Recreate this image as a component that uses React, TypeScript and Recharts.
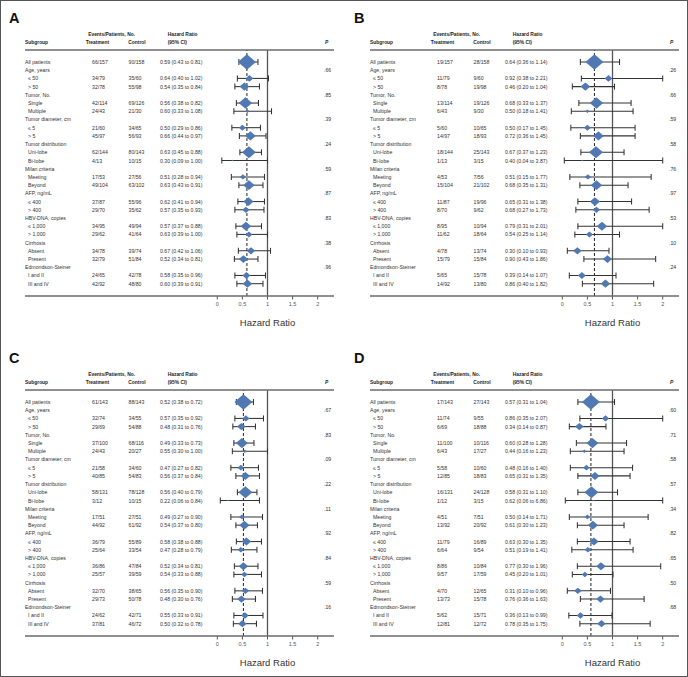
import React from 'react'
import { ScatterChart, Scatter, XAxis, YAxis, ErrorBar, ReferenceLine } from 'recharts'

const SUBGROUPS = [
  'All patients', 'Age, years', '≤ 50', '> 50', 'Tumor, No.', 'Single', 'Multiple',
  'Tumor diameter, cm', '≤ 5', '> 5', 'Tumor distribution', 'Uni-lobe', 'Bi-lobe',
  'Milan criteria', 'Meeting', 'Beyond', 'AFP, ng/mL', '≤ 400', '> 400',
  'HBV-DNA, copies', '≤ 1,000', '> 1,000', 'Cirrhosis', 'Absent', 'Present',
  'Edmondson-Steiner', 'I and II', 'III and IV',
]

const X_TICKS = [0, 0.5, 1, 1.5, 2]

// panel A
const A_TREATMENT = ['66/157', '', '34/79', '32/78', '', '42/114', '24/43', '', '21/60', '45/97', '', '62/144', '4/13', '', '17/53', '49/104', '', '37/87', '29/70', '', '34/95', '29/62', '', '34/78', '32/79', '', '24/65', '42/92']
const A_CONTROL = ['90/158', '', '35/60', '55/98', '', '69/126', '21/30', '', '34/65', '56/93', '', '80/143', '10/15', '', '27/56', '63/102', '', '55/96', '35/62', '', '49/94', '41/64', '', '39/74', '51/84', '', '42/78', '48/80']
const A_HR = [0.59, null, 0.64, 0.54, null, 0.56, 0.60, null, 0.50, 0.66, null, 0.63, 0.30, null, 0.51, 0.63, null, 0.62, 0.57, null, 0.57, 0.63, null, 0.67, 0.52, null, 0.58, 0.60]
const A_LOW = [0.43, null, 0.40, 0.35, null, 0.38, 0.33, null, 0.29, 0.44, null, 0.45, 0.09, null, 0.28, 0.43, null, 0.41, 0.35, null, 0.37, 0.39, null, 0.42, 0.34, null, 0.35, 0.39]
const A_HIGH = [0.81, null, 1.02, 0.84, null, 0.82, 1.08, null, 0.86, 0.97, null, 0.88, 1.00, null, 0.94, 0.91, null, 0.94, 0.93, null, 0.88, 1.00, null, 1.06, 0.81, null, 0.96, 0.91]
const A_P = ['.66', '.85', '.39', '.24', '.59', '.87', '.83', '.38', '.96']

// panel B
const B_TREATMENT = ['19/157', '', '11/79', '8/78', '', '13/114', '6/43', '', '5/60', '14/97', '', '18/144', '1/13', '', '4/53', '15/104', '', '11/87', '8/70', '', '8/95', '11/62', '', '4/78', '15/79', '', '5/65', '14/92']
const B_CONTROL = ['28/158', '', '9/60', '19/98', '', '19/126', '9/30', '', '10/65', '18/93', '', '25/143', '3/15', '', '7/56', '21/102', '', '19/96', '9/62', '', '10/94', '18/64', '', '13/74', '15/84', '', '15/78', '13/80']
const B_HR = [0.64, null, 0.92, 0.46, null, 0.68, 0.50, null, 0.50, 0.72, null, 0.67, 0.40, null, 0.51, 0.68, null, 0.65, 0.68, null, 0.79, 0.54, null, 0.30, 0.90, null, 0.39, 0.86]
const B_LOW = [0.36, null, 0.38, 0.20, null, 0.33, 0.18, null, 0.17, 0.36, null, 0.37, 0.04, null, 0.15, 0.35, null, 0.31, 0.27, null, 0.31, 0.25, null, 0.10, 0.43, null, 0.14, 0.40]
const B_HIGH = [1.14, null, 2.21, 1.04, null, 1.37, 1.41, null, 1.45, 1.45, null, 1.23, 3.87, null, 1.77, 1.31, null, 1.38, 1.73, null, 2.01, 1.14, null, 0.93, 1.86, null, 1.07, 1.82]
const B_P = ['.26', '.66', '.59', '.58', '.76', '.97', '.53', '.10', '.24']

// panel C
const C_TREATMENT = ['61/143', '', '32/74', '29/69', '', '37/100', '24/43', '', '21/58', '40/85', '', '58/131', '3/12', '', '17/51', '44/92', '', '36/79', '25/64', '', '36/86', '25/57', '', '32/70', '29/73', '', '24/62', '37/81']
const C_CONTROL = ['88/143', '', '34/55', '54/88', '', '68/116', '20/27', '', '34/60', '54/83', '', '78/128', '10/15', '', '27/51', '61/92', '', '55/89', '33/54', '', '47/84', '39/59', '', '38/65', '50/78', '', '42/71', '46/72']
const C_HR = [0.52, null, 0.57, 0.48, null, 0.49, 0.55, null, 0.47, 0.56, null, 0.56, 0.22, null, 0.49, 0.54, null, 0.58, 0.47, null, 0.52, 0.54, null, 0.56, 0.48, null, 0.55, 0.50]
const C_LOW = [0.38, null, 0.35, 0.31, null, 0.33, 0.30, null, 0.27, 0.37, null, 0.40, 0.06, null, 0.27, 0.37, null, 0.38, 0.28, null, 0.34, 0.33, null, 0.35, 0.30, null, 0.33, 0.32]
const C_HIGH = [0.72, null, 0.92, 0.76, null, 0.73, 1.00, null, 0.82, 0.84, null, 0.79, 0.84, null, 0.90, 0.80, null, 0.88, 0.79, null, 0.81, 0.88, null, 0.90, 0.76, null, 0.91, 0.78]
const C_P = ['.67', '.83', '.09', '.22', '.11', '.92', '.84', '.59', '.16']

// panel D
const D_TREATMENT = ['17/143', '', '11/74', '6/69', '', '11/100', '6/43', '', '5/58', '12/85', '', '16/131', '1/12', '', '4/51', '13/92', '', '11/79', '6/64', '', '8/86', '9/57', '', '4/70', '13/73', '', '5/62', '12/81']
const D_CONTROL = ['27/143', '', '9/55', '18/88', '', '10/116', '17/27', '', '10/60', '18/83', '', '24/128', '3/15', '', '7/51', '20/92', '', '16/89', '9/54', '', '10/84', '17/59', '', '12/65', '15/78', '', '15/71', '12/72']
const D_HR = [0.57, null, 0.86, 0.34, null, 0.60, 0.44, null, 0.48, 0.65, null, 0.58, 0.62, null, 0.50, 0.61, null, 0.63, 0.51, null, 0.77, 0.45, null, 0.31, 0.76, null, 0.36, 0.78]
const D_LOW = [0.31, null, 0.35, 0.14, null, 0.28, 0.16, null, 0.16, 0.31, null, 0.31, 0.06, null, 0.14, 0.30, null, 0.30, 0.19, null, 0.30, 0.20, null, 0.10, 0.36, null, 0.13, 0.35]
const D_HIGH = [1.04, null, 2.07, 0.87, null, 1.28, 1.23, null, 1.40, 1.35, null, 1.10, 6.86, null, 1.71, 1.23, null, 1.35, 1.41, null, 1.96, 1.01, null, 0.96, 1.63, null, 0.99, 1.75]
const D_P = ['.60', '.71', '.58', '.57', '.34', '.82', '.65', '.50', '.68']

const FONT = "'Liberation Sans', Arial, Helvetica, sans-serif"
const BLUE = '#5079b3'
const W = 342
const H = 338

// marker size follows the number of patients in the subgroup
const patients = (s) => Number(s.split('/')[1])

const Diamond = (props) => {
  const { cx, cy, payload } = props
  if (cx == null || cy == null) return null
  const s = payload.size
  const h = s * 0.85
  return (
    <polygon
      points={`${cx - s},${cy} ${cx},${cy - h} ${cx + s},${cy} ${cx},${cy + h}`}
      fill={BLUE}
    />
  )
}

function Forest({ letter, treatment, control, hr, low, high, p, left, top }) {
  const xMax = X_TICKS[X_TICKS.length - 1]
  const points = []
  hr.forEach((v, i) => {
    if (v == null) return
    const n = patients(treatment[i]) + patients(control[i])
    points.push({
      row: i,
      hr: v,
      err: [v - low[i], Math.min(high[i], xMax) - v],
      size: i === 0 ? 9 : Math.min(7, Math.max(1, 0.028 * n)),
    })
  })

  const heads = []
  hr.forEach((v, i) => { if (v == null) heads.push(i) })

  const RowTick = (props) => {
    const { y, payload } = props
    const i = payload.value
    const isHead = hr[i] == null
    const sub = i > 0 && !isHead
    const t = { fontSize: 5.2, fill: '#333', fontFamily: FONT, dominantBaseline: 'central' }
    const pi = heads.indexOf(i)
    return (
      <g>
        <text x={sub ? 28 : 25} y={y} {...t}>{SUBGROUPS[i]}</text>
        {!isHead && <text x={92} y={y} {...t}>{treatment[i]}</text>}
        {!isHead && <text x={128.5} y={y} {...t}>{control[i]}</text>}
        {!isHead && (
          <text x={160} y={y} {...t}>
            {`${hr[i].toFixed(2)} (${low[i].toFixed(2)} to ${high[i].toFixed(2)})`}
          </text>
        )}
        {pi >= 0 && <text x={324} y={y} {...t}>{p[pi]}</text>}
      </g>
    )
  }

  const hd = { fontSize: 4.9, fontWeight: 700, fill: '#222', fontFamily: FONT }

  return (
    <div style={{ position: 'absolute', left, top, width: W, height: H }}>
      <ScatterChart width={W} height={H} margin={{ top: 50, right: 24.3, bottom: 6, left: 0 }}>
        <XAxis
          type="number"
          dataKey="hr"
          domain={[0, xMax]}
          ticks={X_TICKS}
          allowDataOverflow
          axisLine={false}
          tickLine={{ stroke: '#555' }}
          tickSize={3.5}
          tickMargin={3}
          height={36}
          tick={{ fontSize: 5.5, fill: '#555', fontFamily: FONT }}
          label={{ value: 'Hazard Ratio', position: 'insideBottom', offset: 6, fontSize: 9.5, fill: '#333', fontFamily: FONT }}
        />
        <YAxis
          type="number"
          dataKey="row"
          domain={[-1.46, 28.5]}
          reversed
          ticks={SUBGROUPS.map((_, i) => i)}
          interval={0}
          width={217.3}
          axisLine={false}
          tickLine={false}
          tick={(props) => <RowTick {...props} />}
        />
        <ReferenceLine x={1} stroke="#555" strokeWidth={1.3} />
        <ReferenceLine x={hr[0]} stroke="#222" strokeWidth={1} strokeDasharray="3 2" />
        <Scatter data={points} shape={Diamond} isAnimationActive={false}>
          <ErrorBar dataKey="err" direction="x" width={3} stroke="#333" strokeWidth={1.05} />
        </Scatter>
      </ScatterChart>
      <svg width={W} height={H} style={{ position: 'absolute', left: 0, top: 0, pointerEvents: 'none' }}>
        <text x={9} y={23} fontSize={14.5} fontWeight={700} fill="#111" fontFamily={FONT}>{letter}</text>
        <text x={111.7} y={34} textAnchor="middle" dominantBaseline="central" {...hd}>Events/Patients, No.</text>
        <text x={167.7} y={34} dominantBaseline="central" {...hd}>Hazard Ratio</text>
        <text x={25} y={42.7} dominantBaseline="central" {...hd}>Subgroup</text>
        <text x={85.7} y={42.7} dominantBaseline="central" {...hd}>Treatment</text>
        <text x={128.3} y={42.7} dominantBaseline="central" {...hd}>Control</text>
        <text x={167.7} y={42.7} dominantBaseline="central" {...hd}>(95% CI)</text>
        <text x={325} y={42.7} dominantBaseline="central" fontStyle="italic" {...hd}>P</text>
        <line x1={25} x2={334} y1={50} y2={50} stroke="#6b6b6b" strokeWidth={1.6} />
        <line x1={25} x2={334} y1={296} y2={296} stroke="#6b6b6b" strokeWidth={1.6} />
      </svg>
    </div>
  )
}

export default function App() {
  return (
    <div style={{ position: 'absolute', left: 0, top: 0, width: 688, height: 677, background: '#fff' }}>
      <Forest letter="A" treatment={A_TREATMENT} control={A_CONTROL} hr={A_HR} low={A_LOW} high={A_HIGH} p={A_P} left={0} top={0} />
      <Forest letter="B" treatment={B_TREATMENT} control={B_CONTROL} hr={B_HR} low={B_LOW} high={B_HIGH} p={B_P} left={345} top={0} />
      <Forest letter="C" treatment={C_TREATMENT} control={C_CONTROL} hr={C_HR} low={C_LOW} high={C_HIGH} p={C_P} left={0} top={340} />
      <Forest letter="D" treatment={D_TREATMENT} control={D_CONTROL} hr={D_HR} low={D_LOW} high={D_HIGH} p={D_P} left={345} top={340} />
      <div style={{ position: 'absolute', left: 0, top: 0, width: 688, height: 677, boxSizing: 'border-box', border: '1.5px solid #555', pointerEvents: 'none' }} />
    </div>
  )
}
